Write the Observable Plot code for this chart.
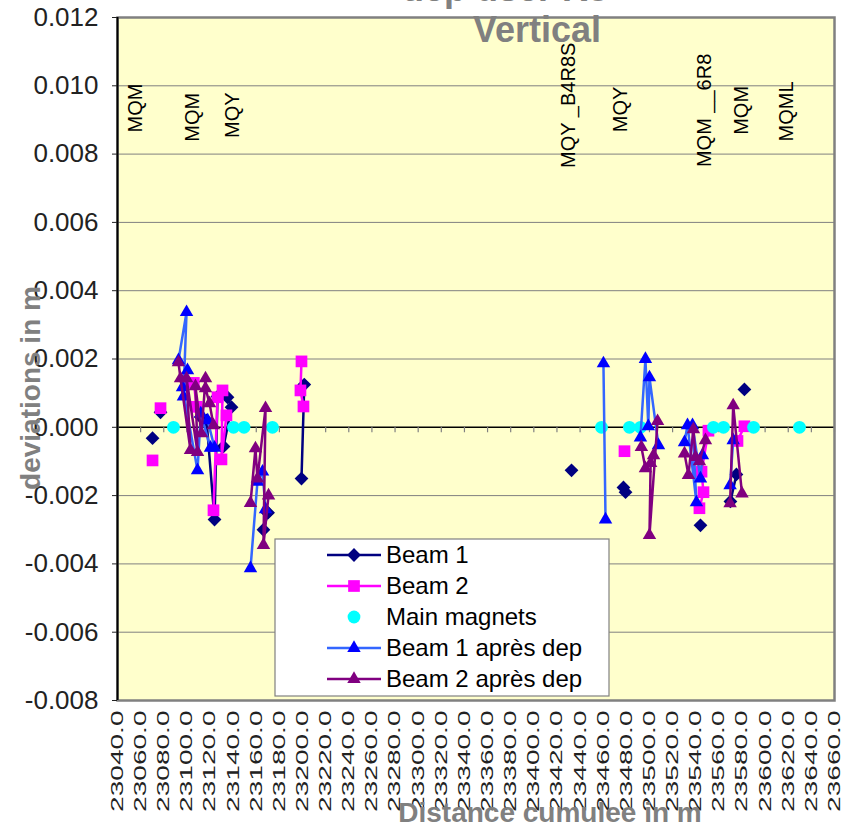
<!DOCTYPE html>
<html><head><meta charset="utf-8">
<script src="https://cdn.jsdelivr.net/npm/d3@7"></script>
<script src="https://cdn.jsdelivr.net/npm/@observablehq/plot@0.6"></script>
<style>body{margin:0;background:#fff} #chart{position:relative;width:858px;height:827px;overflow:hidden}</style>
</head><body><div id="chart"></div>
<script>
// ---------- data ----------
const xTicks = d3.range(23040, 23661, 20);
const yTicks = [-0.008, -0.006, -0.004, -0.002, 0, 0.002, 0.004, 0.006, 0.008, 0.010, 0.012];

const seriesNames = ["Beam 1", "Beam 2", "Main magnets", "Beam 1 après dep", "Beam 2 après dep"];

const beam1X = [23070.3, null, 23077.2, null, 23112.0, 23117.0, 23123.9, 23126.5, 23135.1, 23138.6, 23131.7, null, 23169.7, 23166.2, 23170.2, null, 23199.1, 23201.5, null, 23432.6, null, 23477.5, 23479.3, null, 23544.1, null, 23570.0, 23575.2, null, 23582.1];
const beam1Y = [-0.00032, null, 0.00044, null, 0.0003, 0.0002, -0.0027, 0.0009, 0.00088, 0.00059, -0.00056, null, -0.0025, -0.0030, -0.0025, null, -0.0015, 0.00125, null, -0.00126, null, -0.00176, -0.0019, null, -0.00287, null, -0.00217, -0.00138, null, 0.00111];

const beam2X = [23070.3, null, 23077.2, null, 23106.0, 23108.5, null, 23123.0, 23126.5, 23130.8, 23129.9, 23134.2, null, 23199.1, 23198.2, 23200.8, null, 23478.4, null, 23551.0, 23545.0, 23546.7, 23543.2, null, 23582.1, 23576.1];
const beam2Y = [-0.00097, null, 0.00056, null, 0.0013, 0.0006, null, -0.00243, 0.00088, 0.00108, -0.00094, 0.00035, null, 0.00193, 0.00108, 0.00061, null, -0.0007, null, -0.0001, -0.0013, -0.0019, -0.00237, null, 0.00003, -0.0004];

const magnetX = [23088.4, 23140.3, 23149.4, 23174.0, 23458.5, 23482.7, 23492.2, 23555.3, 23564.0, 23590.0, 23629.7];
const magnetY = [0, 0, 0, 0, 0, 0, 0, 0, 0, 0, 0];

const beam1DepX = [23092.7, 23099.7, 23097.0, 23100.5, 23096.2, 23109.2, 23112.0, 23120.4, 23123.9, 23118.0, null, 23155.0, 23161.0, 23165.4, 23168.0, null, 23460.2, 23462.0, null, 23492.2, 23496.5, 23499.0, 23500.0, 23507.8, null, 23530.3, 23532.9, 23540.6, 23537.2, 23544.1, 23545.8, null, 23569.7, 23572.4];
const beam1DepY = [0.00196, 0.00337, 0.0009, 0.00167, 0.00117, -0.00126, 0.0004, -0.0006, -0.0006, 0.0002, null, -0.00413, -0.0016, -0.0013, -0.0024, null, 0.00187, -0.0027, null, -0.0003, 0.0020, 0.00003, 0.00146, -0.00053, null, -0.00044, 0.00006, -0.0022, 0.00006, -0.0015, -0.00082, null, -0.0017, -0.00038];

const beam2DepX = [23092.7, 23094.5, 23103.1, 23099.7, 23109.2, 23107.4, 23112.6, 23116.1, 23116.1, 23119.6, 23123.0, null, 23155.0, 23159.3, 23161.0, 23168.0, 23166.2, 23170.6, null, 23493.0, 23496.5, 23503.5, 23501.0, 23500.0, 23507.0, null, 23530.3, 23533.7, 23538.0, 23539.8, 23543.2, 23548.4, null, 23569.7, 23572.4, 23580.0];
const beam2DepY = [0.0019, 0.00143, -0.00067, 0.00143, -0.00073, 0.0012, -0.00018, 0.00143, 0.00114, 0.0007, 0.00006, null, -0.00222, -0.00062, -0.0015, 0.00056, -0.00345, -0.0020, null, -0.00058, -0.0012, -0.00082, -0.00105, -0.00316, 0.00018, null, -0.00077, -0.0014, -0.00006, -0.00087, -0.0010, -0.00038, null, -0.00223, 0.00064, -0.00194];

const labelNames = ["MQM", "MQM", "MQY", "MQY _B4R8S", "MQY", "MQM __6R8", "MQM", "MQML"];
const labelX = [23055.6, 23104.9, 23139.4, 23430.0, 23475.0, 23548.0, 23580.0, 23619.0];
const labelY = [0.00935, 0.00908, 0.00914, 0.00943, 0.00931, 0.00928, 0.00928, 0.00925];

// ---------- build rows ----------
const num = v => v == null ? NaN : v;
const rows = (xs, ys) => xs.map((x, i) => ({x: num(x), y: num(ys[i])}));
const defined = r => r.filter(d => Number.isFinite(d.x) && Number.isFinite(d.y));
const b1 = rows(beam1X, beam1Y), b2 = rows(beam2X, beam2Y), mm = rows(magnetX, magnetY);
const b1d = rows(beam1DepX, beam1DepY), b2d = rows(beam2DepX, beam2DepY);
const labels = labelNames.map((t, i) => ({t, x: labelX[i], y: labelY[i]}));

const st = {
  b1: {line: "#000080", fill: "#000080", symbol: "diamond2", r: 6.2},
  b2: {line: "#FF00FF", fill: "#FF00FF", symbol: "square", r: 6.6},
  mm: {line: null, fill: "#00FFFF", symbol: "circle", r: 6.4},
  b1d: {line: "#3366FF", fill: "#0000FF", symbol: "triangle", r: 5.0},
  b2d: {line: "#800080", fill: "#800080", symbol: "triangle", r: 5.0}
};
const lineW = 2.5;
function seriesMarks(data, s) {
  const m = [];
  if (s.line) m.push(Plot.line(data, {x: "x", y: "y", stroke: s.line, strokeWidth: lineW}));
  m.push(Plot.dot(defined(data), {x: "x", y: "y", symbol: s.symbol, r: s.r, fill: s.fill, stroke: "none"}));
  return m;
}

const gridTicks = yTicks.filter(v => v !== 0);
const plot = Plot.plot({
  width: 858, height: 827,
  marginLeft: 117, marginRight: 24, marginTop: 17, marginBottom: 127,
  style: {fontFamily: "'Liberation Sans', Arial, sans-serif", background: "white", overflow: "visible"},
  x: {domain: [23040, 23660]},
  y: {domain: [-0.008, 0.012]},
  marks: [
    Plot.frame({fill: "#FFFFCC"}),
    Plot.ruleY(gridTicks, {stroke: "#808080", strokeWidth: 1}),
    Plot.ruleY([0], {stroke: "#000", strokeWidth: 1.5}),
    Plot.ruleX(xTicks, {y1: 0, y2: -0.00016, stroke: "#808080", strokeWidth: 1.2}),
    Plot.frame({stroke: "#808080", strokeWidth: 2.5}),
    Plot.ruleX([23040], {stroke: "#000", strokeWidth: 2}),
    Plot.axisY({ticks: yTicks, tickFormat: d => d.toFixed(3), tickSize: 5, tickPadding: 14, fontSize: 26, label: null, color: "#222"}),
    Plot.axisX({ticks: xTicks, tickFormat: d => d.toFixed(1), tickRotate: -90, tickSize: 0, tickPadding: 10, fontSize: 17, label: null, color: "#222"}),
    Plot.text(labels, {x: "x", y: "y", text: "t", rotate: -90, fontSize: 20, fill: "#000", textAnchor: "middle"}),
    ...seriesMarks(b1, st.b1),
    ...seriesMarks(b2, st.b2),
    ...seriesMarks(mm, st.mm),
    ...seriesMarks(b1d, st.b1d),
    ...seriesMarks(b2d, st.b2d)
  ]
});
document.getElementById("chart").appendChild(plot);

const svg = d3.select(plot);
// stretch rotated x tick labels along their length
svg.selectAll('g[aria-label="x-axis tick label"] text').each(function() {
  const t = this.getAttribute("transform") || "";
  this.setAttribute("transform", t + " scale(1.65,1)");
});

// titles
const grey = "#808080";
svg.append("text").attr("x", 505).attr("y", 1).attr("text-anchor", "middle")
  .attr("font-size", 36).attr("font-weight", "bold").attr("fill", grey).text("dep user R8");
svg.append("text").attr("x", 537).attr("y", 42).attr("text-anchor", "middle")
  .attr("font-size", 36).attr("font-weight", "bold").attr("fill", grey).text("Vertical");
svg.append("text").attr("transform", "translate(40,388) rotate(-90)").attr("text-anchor", "middle")
  .attr("font-size", 28).attr("font-weight", "bold").attr("fill", grey).text("deviations in m");
svg.append("text").attr("x", 550).attr("y", 822).attr("text-anchor", "middle")
  .attr("font-size", 28).attr("font-weight", "bold").attr("fill", grey).text("Distance cumulee in m");

// legend
const lg = svg.append("g");
lg.append("rect").attr("x", 275).attr("y", 539).attr("width", 334).attr("height", 157)
  .attr("fill", "#fff").attr("stroke", "#808080").attr("stroke-width", 1.2);
const keys = ["b1", "b2", "mm", "b1d", "b2d"];
const symMap = {diamond2: d3.symbolDiamond2, square: d3.symbolSquare, circle: d3.symbolCircle, triangle: d3.symbolTriangle};
keys.forEach((k, i) => {
  const s = st[k], cy = 555 + i * 31;
  if (s.line) lg.append("line").attr("x1", 327).attr("x2", 381).attr("y1", cy).attr("y2", cy)
    .attr("stroke", s.line).attr("stroke-width", lineW);
  lg.append("path").attr("transform", `translate(354,${cy})`)
    .attr("d", d3.symbol(symMap[s.symbol], s.r * s.r * Math.PI)()).attr("fill", s.fill);
  lg.append("text").attr("x", 386).attr("y", cy).attr("dy", "0.35em").attr("text-anchor", "start")
    .attr("font-size", 24).attr("fill", "#000").text(seriesNames[i]);
});
</script>
</body></html>
